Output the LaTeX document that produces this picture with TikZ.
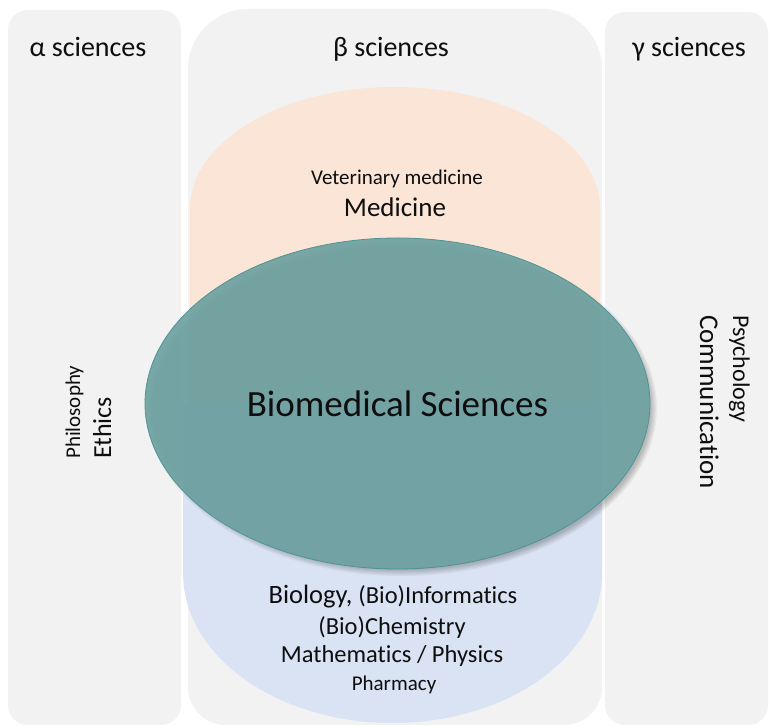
\documentclass[tikz,border=0pt]{standalone}
\usepackage{fontspec}
\setmainfont{Carlito}[Ligatures=NoCommon]
\usetikzlibrary{shapes.geometric}
\definecolor{colgray}{HTML}{F2F2F2}
\definecolor{peach}{HTML}{FBE5D6}
\definecolor{lblue}{HTML}{DAE3F3}
\definecolor{tealfill}{HTML}{6FA2A2}
\definecolor{tealline}{HTML}{4F9494}
\definecolor{txt}{HTML}{0E0E0E}
\tikzset{
  colbox/.style={fill=colgray},
  lbl/.style={text=txt, anchor=base, inner sep=0pt},
  head/.style={lbl, font=\fontsize{28}{32}\selectfont},
  smalltxt/.style={lbl, font=\fontsize{21}{25}\selectfont},
  midtxt/.style={lbl, font=\fontsize{24.5}{28}\selectfont},
  bigtxt/.style={lbl, font=\fontsize{27}{31}\selectfont},
  upward/.style={rotate=90, anchor=base west},
  downward/.style={rotate=-90, anchor=base west},
}
\begin{document}
\begin{tikzpicture}[x=1pt,y=1pt]
\useasboundingbox (0,0) rectangle (770,727);
\fill[white] (0,0) rectangle (770,727);
% columns
\fill[colbox, rounded corners=20pt] (8,2) rectangle (181,717);
\fill[colbox, rounded corners=60pt] (188,300) rectangle (602,718);
\fill[colbox, rounded corners=38pt] (188,2) rectangle (602,400);
\fill[colbox, rounded corners=20pt] (605,2) rectangle (768,715);
% peach and blue regions
\fill[peach] (190,322) -- (190,518) arc[start angle=180, end angle=0, x radius=205pt, y radius=122pt] -- (600,322) -- cycle;
\fill[lblue] (183,323) -- (183,154) arc[start angle=180, end angle=360, x radius=209.5pt, y radius=150pt] -- (602,323) -- cycle;
% shadow of the ellipse
\foreach \k in {0,1,2,3,4,5}{
  \fill[black, opacity=0.045] (402,319) ellipse [x radius={249+\k*1.2}, y radius={162+\k*1.2}];
}
% central ellipse
\node[ellipse, fill=tealfill, fill opacity=0.93, text opacity=1, draw=tealline, line width=0.8pt,
      minimum width=505pt, minimum height=331pt, inner sep=0pt, text=txt,
      font=\fontsize{37}{40}\selectfont] (bio) at (397.5,323.5) {Biomedical Sciences};
% column headings
\node[head] (alpha) at (88,670) {α sciences};
\node[head] (beta) at (391,670) {β sciences};
\node[head] (gamma) at (689,670) {γ sciences};
% top region
\node[smalltxt] (vet) at (397,542) {Veterinary medicine};
\node[bigtxt] (med) at (395,510) {Medicine};
% bottom region
\node[lbl] (biol) at (393,123) {\fontsize{26.5}{30}\selectfont Biology, \fontsize{24.5}{28}\selectfont(Bio)Informatics};
\node[midtxt] (chem) at (392,92) {(Bio)Chemistry};
\node[midtxt] (math) at (392,64) {Mathematics / Physics};
\node[smalltxt] (phar) at (394,36) {Pharmacy};
% left column
\node[smalltxt, upward] (phil) at (80,268) {Philosophy};
\node[lbl, font=\fontsize{26}{30}\selectfont, upward] (eth) at (111,268) {Ethics};
% right column
\node[lbl, font=\fontsize{24}{28}\selectfont, downward] (psy) at (733,412) {Psychology};
\node[bigtxt, downward] (comm) at (700,412) {Communication};
\end{tikzpicture}
\end{document}
